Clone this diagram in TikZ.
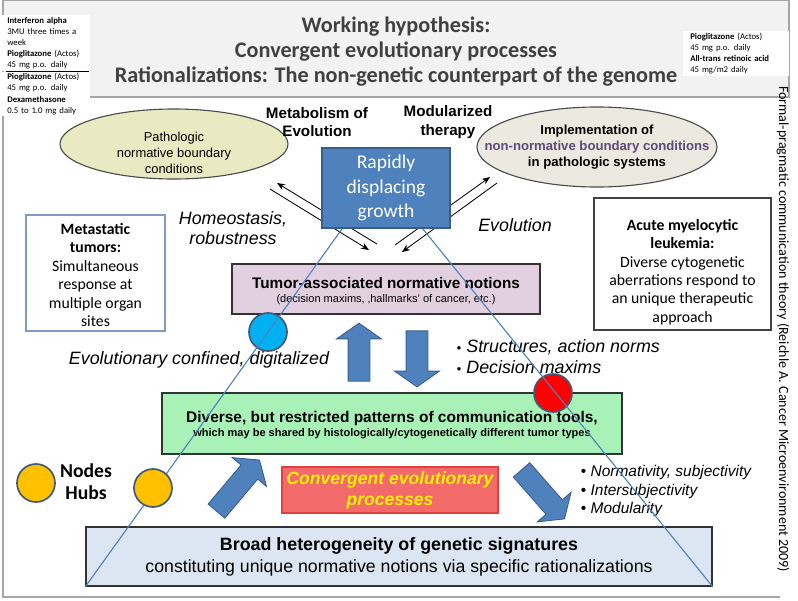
\documentclass[tikz,border=0pt]{standalone}
\usepackage{fontspec}
\setmainfont{Liberation Sans}
\newfontfamily\carlito{Carlito}
\usetikzlibrary{shapes.geometric,shapes.arrows,arrows.meta}

\definecolor{titlegray}{HTML}{404040}
\definecolor{titlefill}{HTML}{F2F2F2}
\definecolor{framegray}{HTML}{A6A6A6}
\definecolor{khaki}{HTML}{EAEAC2}
\definecolor{sand}{HTML}{ECE9E0}
\definecolor{boxblue}{HTML}{4F81BD}
\definecolor{boxblueline}{HTML}{385D8A}
\definecolor{lilac}{HTML}{E2D0E0}
\definecolor{mint}{HTML}{A8F2B8}
\definecolor{paleblue}{HTML}{DCE6F2}
\definecolor{salmon}{HTML}{F26A6A}
\definecolor{salmonline}{HTML}{E04040}
\definecolor{cyanball}{HTML}{00B0F0}
\definecolor{amber}{HTML}{FFC000}
\definecolor{ballline}{HTML}{41597A}
\definecolor{plum}{HTML}{5F497A}
\definecolor{steelline}{HTML}{7F9CC0}

\tikzset{
    titlebox/.style={draw=framegray, fill=titlefill, line width=1pt, minimum width=196.5mm, minimum height=24.25mm},
    titletext/.style={align=center, text=titlegray, font=\carlito\bfseries\fontsize{15.8}{17.6}\selectfont},
    drugbox/.style={fill=white, align=left, text width=19mm, inner xsep=1.75mm, inner ysep=0.4mm,
        font=\carlito\fontsize{6.2}{8}\selectfont},
    oval/.style={ellipse, draw=black!70, line width=0.8pt},
    boldlabel/.style={align=center, font=\bfseries\fontsize{10.8}{13}\selectfont},
    itlabel/.style={align=center, font=\itshape\fontsize{12.7}{13.8}\selectfont},
    notebox/.style={draw, line width=0.8pt, fill=white, inner sep=0pt},
    notetext/.style={align=center, font=\carlito\fontsize{11.2}{13.1}\selectfont},
    layer/.style={draw=black!80, line width=0.8pt, inner sep=0pt},
    blockarrow/.style={single arrow, draw=boxblueline, fill=boxblue, line width=0.6pt, inner xsep=0pt,
        inner ysep=2.625mm, single arrow head extend=2.875mm, single arrow tip angle=110,
        single arrow head indent=0pt, allow upside down},
    ball/.style={circle, draw=ballline, line width=1.2pt, minimum size=9.5mm, inner sep=0pt},
    thinarrow/.style={-{Stealth[length=2mm, width=1.6mm]}, line width=0.6pt},
    triline/.style={draw=boxblue, line width=0.8pt},
}

\begin{document}
\begin{tikzpicture}[x=0.25mm, y=-0.25mm]
    \useasboundingbox (0,0) rectangle (798,600);

    % Frame and title
    \draw[framegray, line width=1pt] (3,97) -- (3,597) -- (780,597);
    \node[titlebox] (head) at (396,48.5) {};
    \node[titletext] (title) at (396,51.5) {Working hypothesis:\\Convergent evolutionary processes\\Rationalizations: The non-genetic counterpart of the genome};

    % Drug boxes
    \node[drugbox, anchor=north west] (interferon) at (0,15) {\textbf{Interferon alpha}\\3MU three times a\\week\\\textbf{Pioglitazone} (Actos)\\45 mg p.o. daily};
    \node[drugbox, anchor=north west] (dexa) at (interferon.south west) {\textbf{Pioglitazone} (Actos)\\45 mg p.o. daily\\\textbf{Dexamethasone}\\0.5 to 1.0 mg daily};
    \draw[line width=0.6pt] ([xshift=1.5mm]interferon.south west) -- ([xshift=-0.5mm]interferon.south east);
    \node[drugbox, text width=23mm, anchor=north west] (retinoic) at (683,31) {\textbf{Pioglitazone} (Actos)\\45 mg p.o. daily\\\textbf{All-trans retinoic acid}\\45 mg/m2 daily};

    % Boundary conditions
    \node[oval, fill=khaki, minimum width=57mm, minimum height=17.5mm] (patho) at (174,144) {};
    \node[align=center, font=\fontsize{9.2}{11.4}\selectfont] (pathotext) at (174,153) {Pathologic\\normative boundary\\conditions};
    \node[oval, fill=sand, minimum width=60mm, minimum height=20mm] (implement) at (597,147) {};
    \node[align=center, font=\bfseries\fontsize{9.35}{11.2}\selectfont] (implementtext) at (implement) {Implementation of\\\textcolor{plum}{non-normative boundary conditions}\\in pathologic systems};

    \node[boldlabel] (metabolism) at (317,122) {Metabolism of\\Evolution};
    \node[boldlabel] (modular) at (448,122) {Modularized\\therapy};

    % Exchange arrows
    \coordinate (homeoA) at (377,244);
    \coordinate (homeoB) at (277,183);
    \coordinate (homeoC) at (270,189);
    \coordinate (homeoD) at (369,250);
    \coordinate (evoA) at (395,245);
    \coordinate (evoB) at (490,177);
    \coordinate (evoC) at (497,183);
    \coordinate (evoD) at (402,252);
    \draw[thinarrow] (homeoA) -- (homeoB);
    \draw[thinarrow] (homeoC) -- (homeoD);
    \draw[thinarrow] (evoA) -- (evoB);
    \draw[thinarrow] (evoC) -- (evoD);

    \node[itlabel] (homeostasis) at (233,228) {Homeostasis,\\robustness};
    \node[itlabel] (evolution) at (515,225) {Evolution};

    % Side notes
    \node[notebox, draw=steelline, minimum width=34.75mm, minimum height=29mm] (metastatic) at (95.5,273) {};
    \node[notetext] (metastatictext) at (95.5,275) {\textbf{Metastatic}\\\textbf{tumors:}\\Simultaneous\\response at\\multiple organ\\sites};
    \node[notebox, draw=black!75, minimum width=44.25mm, minimum height=33mm] (leukemia) at (682.5,264) {};
    \node[notetext] (leukemiatext) at (682.5,272) {\textbf{Acute myelocytic}\\\textbf{leukemia:}\\Diverse cytogenetic\\aberrations respond to\\an unique therapeutic\\approach};

    % Layers
    \node[layer, fill=lilac, minimum width=77mm, minimum height=12.5mm] (tumor) at (386,289) {};
    \node[font=\bfseries\fontsize{10.9}{12}\selectfont] (tumortitle) at (386,283) {Tumor-associated normative notions};
    \node[font=\fontsize{7.85}{8}\selectfont] (tumorsub) at (386,300) {(decision maxims, ‚hallmarks' of cancer, etc.)};

    \node[layer, fill=mint, minimum width=115mm, minimum height=15.25mm] (tools) at (392,423.5) {};
    \node[font=\bfseries\fontsize{11}{12}\selectfont] (toolstitle) at (392,418) {Diverse, but restricted patterns of communication tools,};
    \node[font=\bfseries\fontsize{7.85}{8}\selectfont] (toolssub) at (392,434) {which may be shared by histologically/cytogenetically different tumor types};

    \node[layer, fill=paleblue, minimum width=156.5mm, minimum height=14.75mm] (genetic) at (399,556.5) {};
    \node[font=\bfseries\fontsize{12.7}{13}\selectfont] (genetictitle) at (399,546) {Broad heterogeneity of genetic signatures};
    \node[font=\fontsize{12.6}{13}\selectfont] (geneticsub) at (399,568) {constituting unique normative notions via specific rationalizations};

    \node[layer, draw=salmonline, fill=salmon, minimum width=54mm, minimum height=11.5mm, align=center,
        text=yellow, font=\bfseries\itshape\fontsize{12.5}{15}\selectfont] (convergent) at (390,490) {Convergent evolutionary\\processes};

    % Block arrows
    \coordinate (riseTail) at (359,385);
    \coordinate (riseTip) at (359,327);
    \coordinate (fallTail) at (417,327);
    \coordinate (fallTip) at (417,383);
    \coordinate (climbTail) at (214,514);
    \coordinate (climbTip) at (257,463);
    \coordinate (dropTail) at (519,467);
    \coordinate (dropTip) at (562,516);
    \path (riseTail) -- (riseTip) node[blockarrow, midway, sloped, minimum height=14.5mm] (rise) {};
    \path (fallTail) -- (fallTip) node[blockarrow, midway, sloped, minimum height=14mm] (fall) {};
    \path (climbTail) -- (climbTip) node[blockarrow, midway, sloped, minimum height=16.7mm] (climb) {};
    \path (dropTail) -- (dropTip) node[blockarrow, midway, sloped, minimum height=16.3mm] (drop) {};

    % Labels
    \node[font=\itshape\fontsize{12.7}{13}\selectfont] (confined) at (199,360) {Evolutionary confined, digitalized};
    \node[anchor=west, align=left, font=\itshape\fontsize{12.7}{15}\selectfont] (norms) at (452,357) {{\upshape\small •} Structures, action norms\\{\upshape\small •} Decision maxims};
    \node[anchor=west, align=left, font=\itshape\fontsize{11}{13.5}\selectfont] (subjectivity) at (576,491) {{\upshape •} Normativity, subjectivity\\{\upshape •} Intersubjectivity\\{\upshape •} Modularity};

    % Nodes and hubs
    \node[ball, fill=cyanball] (cyanhub) at (268,332) {};
    \node[ball, fill=red] (redhub) at (553,393) {};
    \node[ball, fill=amber] (legendball) at (36,483) {};
    \node[align=center, font=\carlito\bfseries\fontsize{14}{15.6}\selectfont] (legend) at (86,482) {Nodes\\Hubs};

    % Triangle
    \coordinate (apex) at (380,176);
    \draw[triline] (genetic.south west) -- (apex) -- (genetic.south east);
    \node[ball, fill=amber] (amberhub) at (153,488) {};

    % Growth box
    \node[draw=boxblueline, fill=boxblue, line width=0.8pt, minimum width=32mm, minimum height=20mm, align=center,
        text=white, font=\carlito\fontsize{13.9}{17.5}\selectfont] (growth) at (386,188) {Rapidly\\displacing\\growth};

    % Source
    \node[rotate=-90, font=\carlito\fontsize{10}{12}\selectfont] (source) at (783,329) {Formal-pragmatic communication theory (Reichle A. Cancer Microenvironment 2009)};
\end{tikzpicture}
\end{document}
